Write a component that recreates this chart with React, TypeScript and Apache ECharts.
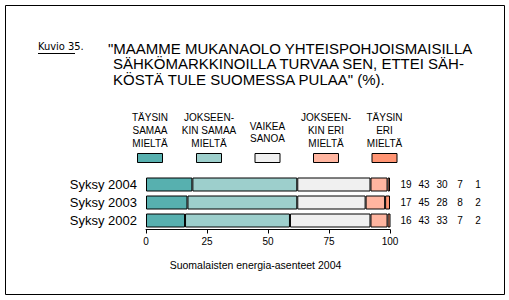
import React, { useEffect, useRef } from "react";
import * as echarts from "echarts";

const years = ["Syksy 2004", "Syksy 2003", "Syksy 2002"];
const seriesNames = [
  "Täysin samaa mieltä",
  "Jokseenkin samaa mieltä",
  "Vaikea sanoa",
  "Jokseenkin eri mieltä",
  "Täysin eri mieltä",
];
const legendLabels = [
  ["TÄYSIN", "SAMAA", "MIELTÄ"],
  ["JOKSEEN-", "KIN SAMAA", "MIELTÄ"],
  ["VAIKEA", "SANOA"],
  ["JOKSEEN-", "KIN ERI", "MIELTÄ"],
  ["TÄYSIN", "ERI", "MIELTÄ"],
];
const taysinSamaa = [19, 17, 16];
const jokseenkinSamaa = [43, 45, 43];
const vaikeaSanoa = [30, 28, 33];
const jokseenkinEri = [7, 8, 7];
const taysinEri = [1, 2, 2];
const xTicks = [0, 25, 50, 75, 100];
const titleLines = [
  '"MAAMME MUKANAOLO YHTEISPOHJOISMAISILLA',
  "SÄHKÖMARKKINOILLA TURVAA SEN, ETTEI SÄH-",
  'KÖSTÄ TULE SUOMESSA PULAA" (%).',
];
const figureLabel = "Kuvio 35.";
const sourceLabel = "Suomalaisten energia-asenteet 2004";

const colors = ["#57B0AF", "#9DCFCC", "#F0F0F0", "#FFB5A0", "#FF9473"];
const FONT = "'Liberation Sans', Arial, sans-serif";

export default function App() {
  const ref = useRef<HTMLDivElement>(null);
  useEffect(() => {
    if (!ref.current) return;
    const chart = echarts.init(ref.current, undefined, { renderer: "svg" });
    const allSeries = [taysinSamaa, jokseenkinSamaa, vaikeaSanoa, jokseenkinEri, taysinEri];
    const legendX = [150, 209, 267.5, 326, 384.5];

    const graphics: any[] = [
      {
        type: "rect",
        shape: { x: 5.5, y: 5.5, width: 499, height: 289 },
        style: { fill: "none", stroke: "#000", lineWidth: 1 },
        silent: true,
      },
      {
        type: "text",
        x: 38,
        y: 46.5,
        style: {
          text: figureLabel,
          fill: "#000",
          fontSize: 11,
          fontFamily: "'Liberation Sans Narrow', 'Arial Narrow', 'DejaVu Sans Condensed', sans-serif",
          align: "left",
          verticalAlign: "middle",
          textAlign: "left",
          textVerticalAlign: "middle",
        },
      },
      {
        type: "line",
        shape: { x1: 38, y1: 53.5, x2: 75, y2: 53.5 },
        style: { stroke: "#000", lineWidth: 1 },
      },
      ...titleLines.map((t, i) => ({
        type: "text",
        x: i === 0 ? 108 : 113,
        y: 48 + i * 15.7,
        style: {
          text: t,
          fill: "#000",
          fontSize: 15,
          fontFamily: FONT,
          align: "left",
          verticalAlign: "middle",
          textAlign: "left",
          textVerticalAlign: "middle",
        },
      })),
      ...legendLabels.map((lines, i) => ({
        type: "text",
        x: legendX[i],
        y: lines.length === 3 ? 130.5 : 132.5,
        style: {
          text: lines.join("\n"),
          fill: "#000",
          fontSize: 10,
          lineHeight: 12.8,
          fontFamily: FONT,
          align: "center",
          verticalAlign: "middle",
          textAlign: "center",
          textVerticalAlign: "middle",
        },
      })),
      ...legendLabels.map((_, i) => ({
        type: "rect",
        shape: { x: legendX[i] - 12.5, y: 153.5, width: 25, height: 9 },
        style: { fill: colors[i], stroke: "#000", lineWidth: 1 },
      })),
      {
        type: "text",
        x: 255.5,
        y: 265,
        style: {
          text: sourceLabel,
          fill: "#000",
          fontSize: 10.5,
          fontFamily: FONT,
          align: "center",
          verticalAlign: "middle",
          textAlign: "center",
          textVerticalAlign: "middle",
        },
      },
    ];

    chart.setOption({
      animation: false,
      grid: { left: 146, right: 119, top: 175.5, bottom: 70.5, containLabel: false },
      xAxis: {
        type: "value",
        min: xTicks[0],
        max: xTicks[xTicks.length - 1],
        interval: xTicks[1] - xTicks[0],
        axisLine: { show: true, lineStyle: { color: "#000", width: 1 } },
        axisTick: { show: true, length: 4, lineStyle: { color: "#000" } },
        axisLabel: { color: "#000", fontSize: 10, fontFamily: FONT, margin: 7 },
        splitLine: { show: false },
      },
      yAxis: [
        {
          type: "category",
          data: years,
          inverse: true,
          axisLine: { show: false },
          axisTick: { show: false },
          axisLabel: { color: "#000", fontSize: 13, fontFamily: FONT, margin: 9 },
        },
        {
          type: "category",
          data: years,
          inverse: true,
          position: "right",
          axisLine: { show: false },
          axisTick: { show: false },
          axisLabel: {
            margin: 7,
            formatter: (_v: string, idx: number) =>
              allSeries.map((s) => `{c|${s[idx]}}`).join(""),
            rich: {
              c: { width: 18, align: "center", fontSize: 10, fontFamily: FONT, color: "#000" },
            },
          },
        },
      ],
      series: allSeries.map((data, i) => ({
        name: seriesNames[i],
        type: "bar",
        stack: "total",
        barWidth: 14,
        data,
        itemStyle: { color: colors[i], borderColor: "#000", borderWidth: 1 },
      })),
      graphic: graphics,
    });
    return () => chart.dispose();
  }, []);
  return (
    <div
      ref={ref}
      style={{ position: "fixed", left: 0, top: 0, width: 509, height: 300, background: "#fff" }}
    />
  );
}
